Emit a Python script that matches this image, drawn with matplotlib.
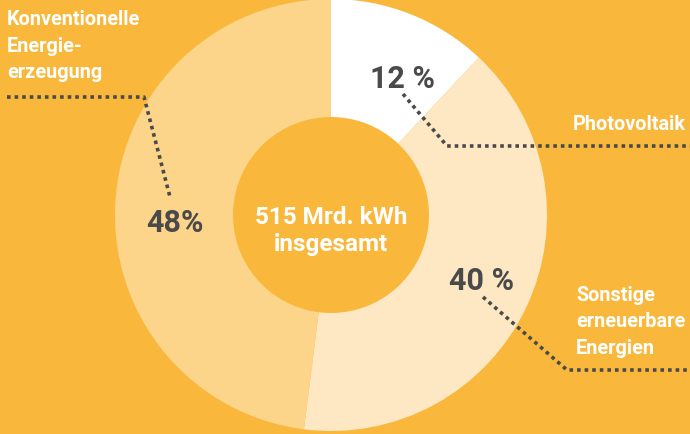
import matplotlib.pyplot as plt

# data
labels = ['Photovoltaik', 'Sonstige\nerneuerbare\nEnergien', 'Konventionelle\nEnergie-\nerzeugung']
shares = [12, 40, 48]
pct_text = ['12 %', '40 %', '48%']
total_text = '515 Mrd. kWh\ninsgesamt'

BG = '#F9B83C'
slice_colors = ['#FFFFFF', '#FDE8C3', '#FCD58B']
DARK = '#4A4A4A'
W, H = 690, 435

plt.rcParams['font.family'] = ['Roboto', 'DejaVu Sans']

fig = plt.figure(figsize=(6.9, 4.35), dpi=100, facecolor=BG)
ax = fig.add_axes([0, 0, 1, 1])
ax.set_facecolor(BG)

cx, cy, r = 331, H - 216, 216
ax.pie(shares, colors=slice_colors, startangle=90, counterclock=False,
       center=(cx, cy), radius=r, frame=True,
       wedgeprops=dict(width=r - 98, linewidth=0))
ax.set_xlim(0, W)
ax.set_ylim(0, H)
ax.set_aspect('equal')
ax.axis('off')


def y(v):
    return H - v


# center
ax.text(cx, y(231), total_text, ha='center', va='center', color='white',
        fontsize=17.5, fontweight='bold', linespacing=1.22)

# percentages
pct = dict(ha='center', va='center', color=DARK, fontsize=22, fontweight='bold')
ax.text(402, y(79), pct_text[0], **pct)
ax.text(482, y(281), pct_text[1], **pct)
ax.text(175, y(223), pct_text[2], **pct)

# labels
lab = dict(color='white', fontsize=14.3, fontweight='bold', va='center', linespacing=1.48)
ax.text(686, y(124), labels[0], ha='right', **lab)
ax.text(576, y(322), labels[1], ha='left', **lab)
ax.text(7, y(46), labels[2], ha='left', **lab)

# leader lines
dots = dict(color=DARK, linewidth=2.6, linestyle=(0, (1, 1.1)), solid_capstyle='butt')
ax.plot([403, 447, W], [y(95), y(147), y(147)], **dots)
ax.plot([483, 567, W], [y(298), y(371), y(371)], **dots)
ax.plot([7, 144, 170], [y(98), y(98), y(198)], **dots)

fig.savefig('out.png', dpi=100, facecolor=BG)
